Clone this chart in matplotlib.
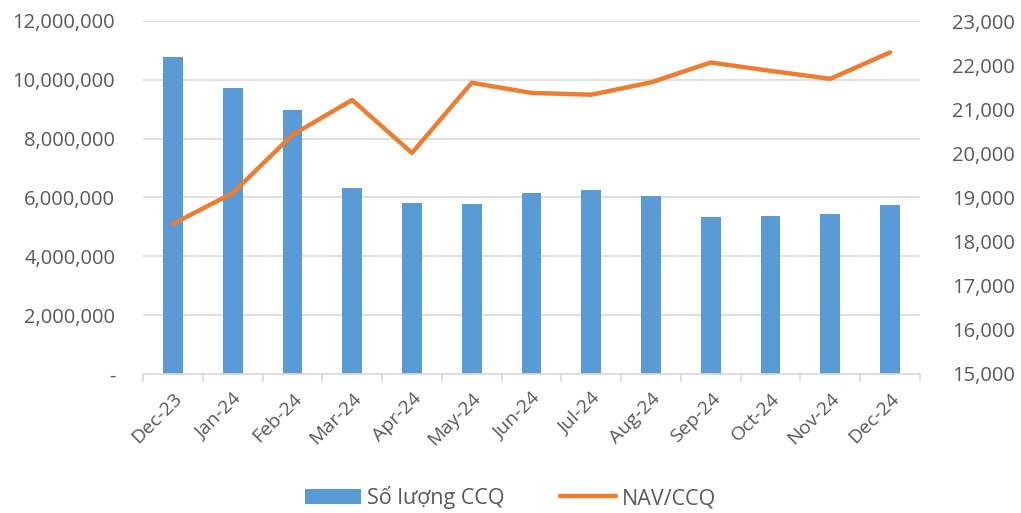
import matplotlib
matplotlib.use("Agg")
import matplotlib.pyplot as plt
from matplotlib.ticker import FuncFormatter, FixedLocator
import numpy as np

months = ["Dec-23", "Jan-24", "Feb-24", "Mar-24", "Apr-24", "May-24", "Jun-24",
          "Jul-24", "Aug-24", "Sep-24", "Oct-24", "Nov-24", "Dec-24"]
so_luong_ccq = [10780000, 9720000, 8970000, 6320000, 5810000, 5770000, 6140000,
                6260000, 6040000, 5330000, 5360000, 5440000, 5730000]
nav_ccq = [18400, 19100, 20420, 21210, 20010, 21600, 21370,
           21330, 21610, 22060, 21870, 21690, 22290]

plt.rcParams['font.family'] = ['Open Sans', 'DejaVu Sans']
text_color = "#595959"
grid_color = "#D9D9D9"

fig = plt.figure(figsize=(10.21, 5.13), dpi=100)
ax = fig.add_axes([143/1021, (513-374)/513, (920-143)/1021, (374-21)/513])
ax2 = ax.twinx()

x = np.arange(len(months))
ax.bar(x, so_luong_ccq, width=0.33, color="#5B9BD5", label="Số lượng CCQ", zorder=2)
ax2.plot(x, nav_ccq, color="#ED7D31", lw=3.2, solid_capstyle="round", label="NAV/CCQ", zorder=3)

ax.set_xlim(-0.5, len(months) - 0.5)
ax.set_ylim(0, 12000000)
ax.set_yticks(np.arange(0, 12000001, 2000000))
ax.yaxis.set_major_formatter(FuncFormatter(lambda v, p: "-" if v == 0 else f"{int(v):,}"))
ax2.set_ylim(15000, 23000)
ax2.set_yticks(np.arange(15000, 23001, 1000))
ax2.yaxis.set_major_formatter(FuncFormatter(lambda v, p: f"{int(v):,}"))

ax.yaxis.grid(True, color=grid_color, lw=1.2, zorder=0)
ax.set_axisbelow(True)
for a in (ax, ax2):
    for s in a.spines.values():
        s.set_visible(False)
ax.spines['bottom'].set_visible(True)
ax.spines['bottom'].set_color(grid_color)
ax.spines['bottom'].set_linewidth(1.2)

ax.set_xticks(x)
ax.set_xticklabels(months, rotation=45, ha="right", rotation_mode="anchor")
ax.xaxis.set_minor_locator(FixedLocator(np.arange(-0.5, len(months), 1.0)))
ax.tick_params(axis="x", which="major", length=0, pad=11, labelsize=14, labelcolor=text_color)
ax.tick_params(axis="x", which="minor", length=6, color=grid_color, width=1.2)
ax.tick_params(axis="y", length=0, labelsize=14.5, labelcolor=text_color, pad=20)
ax2.tick_params(axis="y", length=0, labelsize=14.5, labelcolor=text_color, pad=23)

h1, l1 = ax.get_legend_handles_labels()
h2, l2 = ax2.get_legend_handles_labels()
fig.legend(h1 + h2, l1 + l2, loc="lower center", bbox_to_anchor=(0.5, -0.03), ncol=2,
           frameon=False, fontsize=15.5, labelcolor=text_color, handlelength=2.6,
           handletextpad=0.25, columnspacing=2.6)

fig.savefig("out.png", dpi=100)
